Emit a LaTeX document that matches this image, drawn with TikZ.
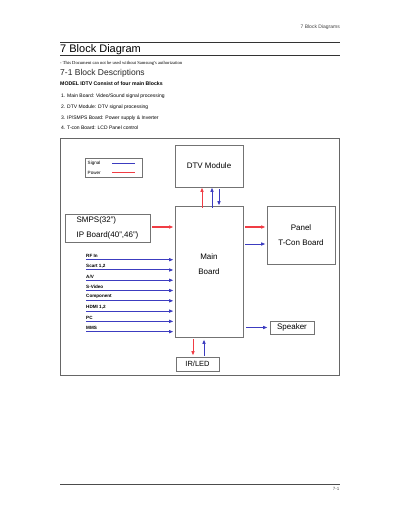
\documentclass[tikz,border=0pt]{standalone}
\usepackage{fontspec}
\setmainfont{Liberation Sans}
\newfontfamily\docserif{Liberation Serif}
\usetikzlibrary{arrows.meta,positioning}
\definecolor{sigblue}{HTML}{3C3CC0}
\definecolor{pwrred}{HTML}{F03C44}

\begin{document}
\begin{tikzpicture}[
  x=1pt, y=-1pt,
  box/.style={draw=black!55, line width=0.6pt, font=\fontsize{8}{12}\selectfont, align=center, inner sep=0pt},
  txt/.style={anchor=base west, inner sep=0pt},
  lab/.style={font=\fontsize{4.6}{5}\selectfont, inner sep=0.5pt, anchor=south west},
  sig/.style={-{Latex[length=4.5pt,width=3.6pt]}, sigblue, line width=1pt},
  pwr/.style={-{Latex[length=4.5pt,width=3.6pt]}, pwrred, line width=1pt}
]
\useasboundingbox (0,0) rectangle (400,518);
% page header and titles
\node[anchor=base east, inner sep=0pt, font=\fontsize{5}{6}\selectfont, text=black!75] (head) at (340,29) {7 Block Diagrams};
\draw[line width=1.6pt, black!80] (60,42.5) -- (340,42.5);
\node[txt, font=\fontsize{11}{12}\selectfont] (title) at (60,53) {7 Block Diagram};
\draw[line width=0.6pt, black!80] (60,55) -- (340,55);
\node[txt, font=\docserif\fontsize{4.6}{5}\selectfont] (note) at (60,64.5) {- This Document can not be used without Samsung's authorization};
\node[txt, font=\fontsize{8.5}{9}\selectfont, text=black!85] (sect) at (60,75.5) {7-1 Block Descriptions};
\node[txt, font=\bfseries\fontsize{5.2}{6}\selectfont] (model) at (60,86) {MODEL IDTV Consist of four main Blocks};
\node[txt, font=\fontsize{5}{6}\selectfont] (item1) at (61,98) {1. Main Board: Video/Sound signal processing};
\node[txt, font=\fontsize{5}{6}\selectfont] (item2) at (61,108.5) {2. DTV Module: DTV signal processing};
\node[txt, font=\fontsize{5}{6}\selectfont] (item3) at (61,119.5) {3. IP/SMPS Board: Power supply \& Inverter};
\node[txt, font=\fontsize{5}{6}\selectfont] (item4) at (61,129.5) {4. T-con Board: LCD Panel control};

% diagram frame
\draw[black!60, line width=0.6pt] (60,138) rectangle (339,375);

% legend
\node[box, minimum width=57pt, minimum height=19pt] (legend) at (113.5,167.5) {};
\node[lab, anchor=west] (lsig) at (87,163.5) {Signal};
\node[lab, anchor=west] (lpwr) at (87,172.5) {Power};
\draw[sigblue, line width=1pt] (lsig.east -| 112,0) -- (lsig.east -| 135,0);
\draw[pwrred, line width=1pt] (lpwr.east -| 112,0) -- (lpwr.east -| 135,0);

% blocks
\node[box, minimum width=68pt, minimum height=42pt] (dtv) at (209,166) {DTV Module};
\node[box, minimum width=68pt, minimum height=131pt] (main) at (209,271.5) {};
\node[font=\fontsize{8}{15}\selectfont, align=center, inner sep=0pt] (mainlab) at (209,264.5) {Main\\Board};
\node[box, minimum width=85pt, minimum height=28pt, align=left, font=\fontsize{8}{15}\selectfont] (smps) at (107.5,228) {SMPS(32")\\IP Board(40",46")};
\node[box, minimum width=68pt, minimum height=58pt, font=\fontsize{8}{15}\selectfont] (panel) at (301,235) {Panel\\T-Con Board};
\node[box, minimum width=44pt, minimum height=13pt] (speaker) at (292,327.5) {Speaker};
\node[box, minimum width=43pt, minimum height=14pt, font=\fontsize{7.5}{9}\selectfont] (irled) at (197.5,364) {IR/LED};

% connections
\draw[pwr] ([xshift=-7pt,yshift=-2pt]main.north) -- ([xshift=-7pt]dtv.south);
\draw[sig] ([xshift=3pt,yshift=-2pt]main.north) -- ([xshift=3pt]dtv.south);
\draw[sig] ([xshift=10pt,yshift=-2pt]dtv.south) -- ([xshift=10pt]main.north);
\draw[pwr] ([xshift=2pt,yshift=1pt]smps.east) -- ([xshift=-1pt,yshift=1pt]smps.east -| main.west);
\draw[pwr] ([xshift=2pt]main.east |- 0,227) -- ([xshift=-1pt]panel.west |- 0,227);
\draw[sig] ([xshift=2pt]main.east |- 0,244) -- ([xshift=-1pt]panel.west |- 0,244);
\draw[sig] ([xshift=3pt]main.east |- speaker.west) -- ([xshift=-2pt]speaker.west);
\draw[pwr] ([xshift=-16pt,yshift=-2pt]main.south) -- ([xshift=-4.5pt,yshift=1pt]irled.north);
\draw[sig] ([xshift=6.5pt,yshift=1pt]irled.north) -- ([xshift=-5pt,yshift=-2pt]main.south);

% inputs
\foreach \src [count=\i] in {RF In, {Scart 1,2}, A/V, S-Video, Component, {HDMI 1,2}, PC, MMS} {
  \node[lab, font=\bfseries\fontsize{4.6}{5}\selectfont] (in\i) at (85.5,{258.5+(\i-1)*10.28}) {\src};
  \draw[sig] ([xshift=0.5pt,yshift=-1.2pt]in\i.south west) -- ([xshift=-1pt,yshift=-1.2pt]in\i.south -| main.west);
}

% page footer
\draw[line width=1pt, black!70] (60,484) -- (340,484);
\node[anchor=base east, inner sep=0pt, font=\fontsize{4.5}{5}\selectfont, text=black!70] (pageno) at (339.5,490) {7-1};
\end{tikzpicture}
\end{document}
